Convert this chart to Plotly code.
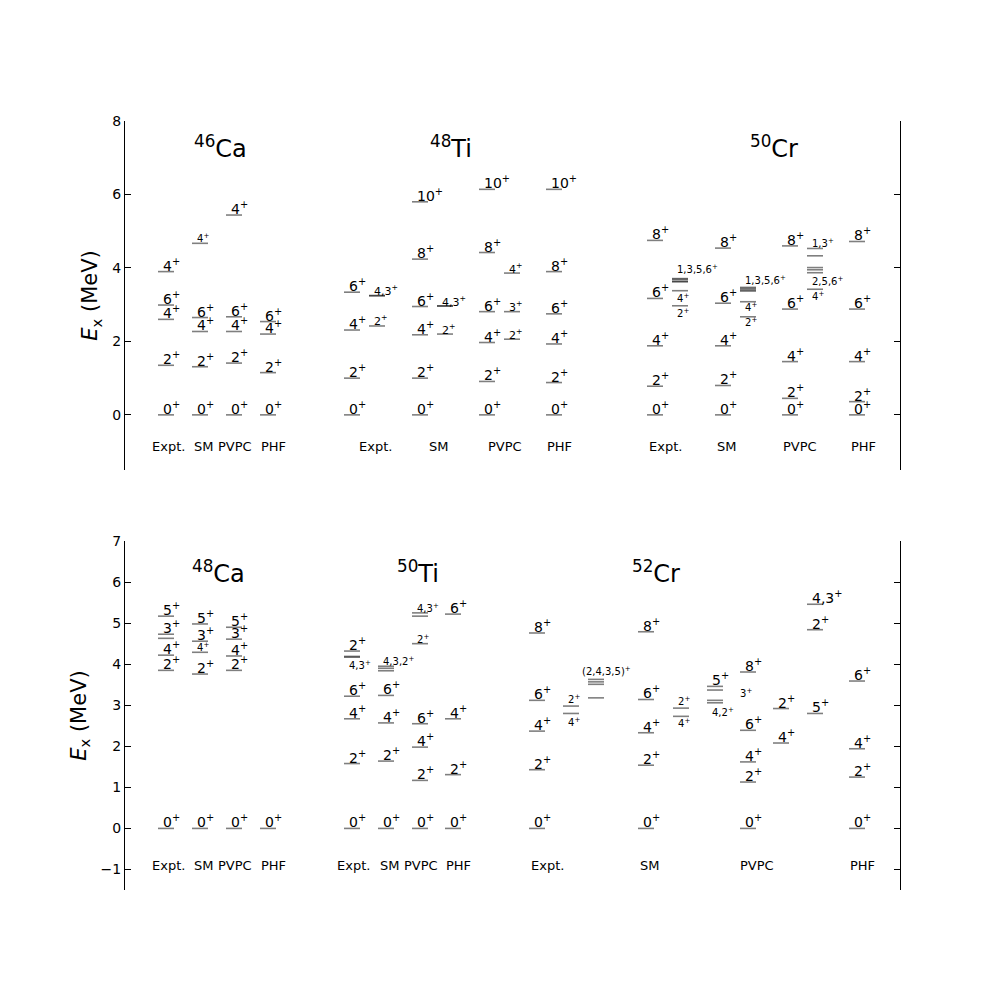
import plotly.graph_objects as go

# ---------------- top panel: 46Ca, 48Ti, 50Cr ----------------
# energies in MeV, spins as labels
ca46_expt_e = [0.0, 1.35, 2.60, 2.99, 3.90]
ca46_expt_j = ["0", "2", "4", "6", "4"]
ca46_sm_e = [0.0, 1.31, 2.27, 2.65]
ca46_sm_j = ["0", "2", "4", "6"]
ca46_sm_hi_e = [4.67]
ca46_sm_hi_j = ["4"]
ca46_pvpc_e = [0.0, 1.41, 2.27, 2.67, 5.44]
ca46_pvpc_j = ["0", "2", "4", "6", "4"]
ca46_phf_e = [0.0, 1.15, 2.20, 2.54]
ca46_phf_j = ["0", "2", "4", "6"]

ti48_expt_e = [0.0, 1.00, 2.31, 3.34]
ti48_expt_j = ["0", "2", "4", "6"]
ti48_expt_x_e = [2.42, 3.24, 3.25]
ti48_expt_x_j = ["2", "4,3", ""]
ti48_sm_e = [0.0, 1.00, 2.18, 2.95, 4.24, 5.80]
ti48_sm_j = ["0", "2", "4", "6", "8", "10"]
ti48_sm_x_e = [2.20, 2.96, 2.97]
ti48_sm_x_j = ["2", "4,3", ""]
ti48_pvpc_e = [0.0, 0.91, 1.97, 2.81, 4.42, 6.14]
ti48_pvpc_j = ["0", "2", "4", "6", "8", "10"]
ti48_pvpc_x_e = [2.06, 2.81, 3.86]
ti48_pvpc_x_j = ["2", "3", "4"]
ti48_phf_e = [0.0, 0.88, 1.93, 2.75, 3.90, 6.14]
ti48_phf_j = ["0", "2", "4", "6", "8", "10"]

cr50_expt_e = [0.0, 0.78, 1.88, 3.17, 4.75]
cr50_expt_j = ["0", "2", "4", "6", "8"]
cr50_expt_x_e = [2.97, 3.38, 3.62, 3.64, 3.69, 3.71]
cr50_expt_x_j = ["2", "4", "1,3,5,6"]
cr50_expt_x_je = [2.64, 3.05, 3.84]
cr50_sm_e = [0.0, 0.80, 1.88, 3.04, 4.54]
cr50_sm_j = ["0", "2", "4", "6", "8"]
cr50_sm_x_e = [2.67, 3.08, 3.37, 3.40, 3.44, 3.47]
cr50_sm_x_j = ["2", "4", "1,3,5,6"]
cr50_sm_x_je = [2.39, 2.80, 3.54]
cr50_pvpc_e = [0.0, 0.45, 1.45, 2.88, 4.60]
cr50_pvpc_j = ["0", "2", "4", "6", "8"]
cr50_pvpc_x_e = [3.42, 3.87, 3.95, 4.01, 4.33, 4.53]
cr50_pvpc_x_j = ["4", "2,5,6", "1,3"]
cr50_pvpc_x_je = [3.10, 3.51, 4.54]
cr50_phf_e = [0.0, 0.36, 1.45, 2.88, 4.72]
cr50_phf_j = ["0", "2", "4", "6", "8"]

# ---------------- bottom panel: 48Ca, 50Ti, 52Cr ----------------
ca48_expt_e = [0.0, 3.85, 4.22, 4.63, 4.73, 5.17]
ca48_expt_j = ["0", "2", "4", "", "3", "5"]
ca48_sm_e = [0.0, 3.76, 4.56, 4.98]
ca48_sm_j = ["0", "2", "3", "5"]
ca48_sm_lo_e = [4.29]
ca48_sm_lo_j = ["4"]
ca48_pvpc_e = [0.0, 3.85, 4.20, 4.61, 4.90]
ca48_pvpc_j = ["0", "2", "4", "3", "5"]
ca48_phf_e = [0.0]
ca48_phf_j = ["0"]

ti50_expt_e = [0.0, 1.58, 2.67, 3.22, 4.32]
ti50_expt_j = ["0", "2", "4", "6", "2"]
ti50_expt_x_e = [4.17, 4.19]
ti50_expt_x_j = ["4,3"]
ti50_expt_x_je = [3.85]
ti50_sm_e = [0.0, 1.64, 2.57, 3.24]
ti50_sm_j = ["0", "2", "4", "6"]
ti50_sm_x_e = [3.84, 3.90, 3.95]
ti50_sm_x_j = ["", "", "4,3,2"]
ti50_pvpc_e = [0.0, 1.17, 1.98, 2.55]
ti50_pvpc_j = ["0", "2", "4", "6"]
ti50_pvpc_x_e = [4.50, 5.17, 5.25]
ti50_pvpc_x_j = ["2", "", "4,3"]
ti50_phf_e = [0.0, 1.31, 2.67, 5.22]
ti50_phf_j = ["0", "2", "4", "6"]

cr52_expt_e = [0.0, 1.43, 2.37, 3.12, 4.76]
cr52_expt_j = ["0", "2", "4", "6", "8"]
cr52_expt_x1_e = [2.80, 2.98]
cr52_expt_x1_j = ["4", "2"]
cr52_expt_x1_je = [2.46, 3.02]
cr52_expt_x2_e = [3.18, 3.51, 3.57, 3.63]
cr52_expt_x2_j = ["(2,4,3,5)"]
cr52_expt_x2_je = [3.71]
cr52_sm_e = [0.0, 1.54, 2.33, 3.14, 4.79]
cr52_sm_j = ["0", "2", "4", "6", "8"]
cr52_sm_x1_e = [2.73, 2.93]
cr52_sm_x1_j = ["4", "2"]
cr52_sm_x1_je = [2.44, 2.97]
cr52_sm_x2_e = [3.06, 3.12, 3.37, 3.46]
cr52_sm_x2_j = ["4,2"]
cr52_sm_x2_je = [2.71]
cr52_sm_x2_5_e = [3.46]
cr52_sm_x2_5_j = ["5"]
cr52_sm_x2_3_je = [3.17]
cr52_sm_x2_3_j = ["3"]
cr52_pvpc_e = [0.0, 1.13, 1.62, 2.39, 3.81]
cr52_pvpc_j = ["0", "2", "4", "6", "8"]
cr52_pvpc_x1_e = [2.08, 2.92]
cr52_pvpc_x1_j = ["4", "2"]
cr52_pvpc_x2_e = [2.80, 4.84, 5.46]
cr52_pvpc_x2_j = ["5", "2", "4,3"]
cr52_phf_e = [0.0, 1.25, 1.94, 3.59]
cr52_phf_j = ["0", "2", "4", "6"]

models = ["Expt.", "SM", "PVPC", "PHF"]

FONT = "DejaVu Sans"
W = 0.16  # level line width (x units, 1 unit = 100 px)
LINE_COL = "rgba(0,0,0,0.5)"

fig = go.Figure()
ann = []
lines = {"y": ([], []), "y2": ([], [])}


def column(yax, x0, energies, spins, size=14, spin_e=None, draw=True, dx=0.03):
    xs, ys = lines[yax]
    if draw:
        for e in energies:
            xs += [x0, x0 + W, None]
            ys += [e, e, None]
    if spin_e is None:
        spin_e = energies
    shift = 7 if size >= 12 else 5
    for e, j in zip(spin_e, spins):
        if not j:
            continue
        ann.append(dict(x=x0 + dx, y=e, xref="x" if yax == "y" else "x2", yref=yax,
                        text=j + "<sup>+</sup>", showarrow=False, xanchor="left",
                        yanchor="middle", yshift=shift,
                        font=dict(size=size, color="black", family=FONT)))


# top panel columns
column("y", 0.33, ca46_expt_e, ca46_expt_j)
column("y", 0.67, ca46_sm_e, ca46_sm_j)
column("y", 0.67, ca46_sm_hi_e, ca46_sm_hi_j, size=10)
column("y", 1.01, ca46_pvpc_e, ca46_pvpc_j)
column("y", 1.35, ca46_phf_e, ca46_phf_j)

column("y", 2.19, ti48_expt_e, ti48_expt_j)
column("y", 2.44, ti48_expt_x_e, ti48_expt_x_j, size=11)
column("y", 2.87, ti48_sm_e, ti48_sm_j)
column("y", 3.12, ti48_sm_x_e, ti48_sm_x_j, size=11)
column("y", 3.54, ti48_pvpc_e, ti48_pvpc_j)
column("y", 3.79, ti48_pvpc_x_e, ti48_pvpc_x_j, size=11)
column("y", 4.21, ti48_phf_e, ti48_phf_j)

column("y", 5.22, cr50_expt_e, cr50_expt_j)
column("y", 5.47, cr50_expt_x_e, cr50_expt_x_j, size=10, spin_e=cr50_expt_x_je)
column("y", 5.90, cr50_sm_e, cr50_sm_j)
column("y", 6.15, cr50_sm_x_e, cr50_sm_x_j, size=10, spin_e=cr50_sm_x_je)
column("y", 6.57, cr50_pvpc_e, cr50_pvpc_j)
column("y", 6.82, cr50_pvpc_x_e, cr50_pvpc_x_j, size=10, spin_e=cr50_pvpc_x_je)
column("y", 7.24, cr50_phf_e, cr50_phf_j)

# bottom panel columns
column("y2", 0.33, ca48_expt_e, ca48_expt_j)
column("y2", 0.67, ca48_sm_e, ca48_sm_j)
column("y2", 0.67, ca48_sm_lo_e, ca48_sm_lo_j, size=10)
column("y2", 1.01, ca48_pvpc_e, ca48_pvpc_j)
column("y2", 1.35, ca48_phf_e, ca48_phf_j)

column("y2", 2.19, ti50_expt_e, ti50_expt_j)
column("y2", 2.19, ti50_expt_x_e, ti50_expt_x_j, size=10, spin_e=ti50_expt_x_je)
column("y2", 2.53, ti50_sm_e, ti50_sm_j)
column("y2", 2.53, ti50_sm_x_e, ti50_sm_x_j, size=10)
column("y2", 2.87, ti50_pvpc_e, ti50_pvpc_j)
column("y2", 2.87, ti50_pvpc_x_e, ti50_pvpc_x_j, size=10)
column("y2", 3.20, ti50_phf_e, ti50_phf_j)

column("y2", 4.04, cr52_expt_e, cr52_expt_j)
column("y2", 4.38, cr52_expt_x1_e, cr52_expt_x1_j, size=10, spin_e=cr52_expt_x1_je)
column("y2", 4.63, cr52_expt_x2_e, cr52_expt_x2_j, size=10, spin_e=cr52_expt_x2_je, dx=-0.08)
column("y2", 5.13, cr52_sm_e, cr52_sm_j)
column("y2", 5.48, cr52_sm_x1_e, cr52_sm_x1_j, size=10, spin_e=cr52_sm_x1_je)
column("y2", 5.82, cr52_sm_x2_e, cr52_sm_x2_j, size=10, spin_e=cr52_sm_x2_je)
column("y2", 5.82, cr52_sm_x2_5_e, cr52_sm_x2_5_j, draw=False)
column("y2", 6.10, cr52_sm_x2_3_je, cr52_sm_x2_3_j, size=10, draw=False)
column("y2", 6.15, cr52_pvpc_e, cr52_pvpc_j)
column("y2", 6.48, cr52_pvpc_x1_e, cr52_pvpc_x1_j)
column("y2", 6.82, cr52_pvpc_x2_e, cr52_pvpc_x2_j)
column("y2", 7.24, cr52_phf_e, cr52_phf_j)

for yax, xa in (("y", "x"), ("y2", "x2")):
    xs, ys = lines[yax]
    fig.add_trace(go.Scatter(x=xs, y=ys, mode="lines", xaxis=xa, yaxis=yax,
                             line=dict(color=LINE_COL, width=1.6),
                             hoverinfo="skip", showlegend=False))

# model names under each block
top_model_x = [[0.43, 0.78, 1.10, 1.48], [2.50, 3.13, 3.80, 4.34], [5.40, 6.01, 6.75, 7.38]]
bot_model_x = [[0.43, 0.78, 1.10, 1.48], [2.28, 2.64, 2.96, 3.33], [4.22, 5.24, 6.32, 7.37]]
for xa, ya, ypos, groups in (("x", "y", -0.87, top_model_x), ("x2", "y2", -0.90, bot_model_x)):
    for g in groups:
        for xm, name in zip(g, models):
            ann.append(dict(x=xm, y=ypos, xref=xa, yref=ya, text=name, showarrow=False,
                            font=dict(size=13, color="black", family=FONT)))

# nucleus titles
titles_top = [(0.95, "<sup>46</sup>Ca"), (3.26, "<sup>48</sup>Ti"), (6.49, "<sup>50</sup>Cr")]
titles_bot = [(0.93, "<sup>48</sup>Ca"), (2.93, "<sup>50</sup>Ti"), (5.31, "<sup>52</sup>Cr")]
for xa, ya, ypos, tl in (("x", "y", 7.29, titles_top), ("x2", "y2", 6.24, titles_bot)):
    for xm, t in tl:
        ann.append(dict(x=xm, y=ypos, xref=xa, yref=ya, text=t, showarrow=False,
                        font=dict(size=24, color="black", family=FONT)))

yaxis_common = dict(showline=True, linecolor="black", linewidth=1.2, mirror="ticks",
                    ticks="inside", ticklen=6, tickcolor="black", showgrid=False,
                    zeroline=False, automargin=False,
                    tickfont=dict(size=14, color="black", family=FONT),
                    title=dict(text="<i>E</i><sub>x</sub> (MeV)",
                               font=dict(size=21, color="black", family=FONT), standoff=8))

# page body adds an 8 px offset; margins compensate so the axes land where the reference has them
fig.update_layout(
    width=1000, height=1000,
    margin=dict(l=117, r=108, t=113, b=118),
    plot_bgcolor="white", paper_bgcolor="white",
    annotations=ann,
    xaxis=dict(domain=[0, 1], range=[0, 7.75], visible=False, anchor="y"),
    xaxis2=dict(domain=[0, 1], range=[0, 7.75], visible=False, anchor="y2"),
    yaxis=dict(domain=[0.5462, 1], range=[-1.5, 8], tickvals=[0, 2, 4, 6, 8],
               anchor="x", **yaxis_common),
    yaxis2=dict(domain=[0, 0.4538], range=[-1.5, 7], tickvals=[-1, 0, 1, 2, 3, 4, 5, 6, 7],
                ticktext=["\u22121", "0", "1", "2", "3", "4", "5", "6", "7"],
                anchor="x2", **yaxis_common),
)

fig.write_html("out.html")
